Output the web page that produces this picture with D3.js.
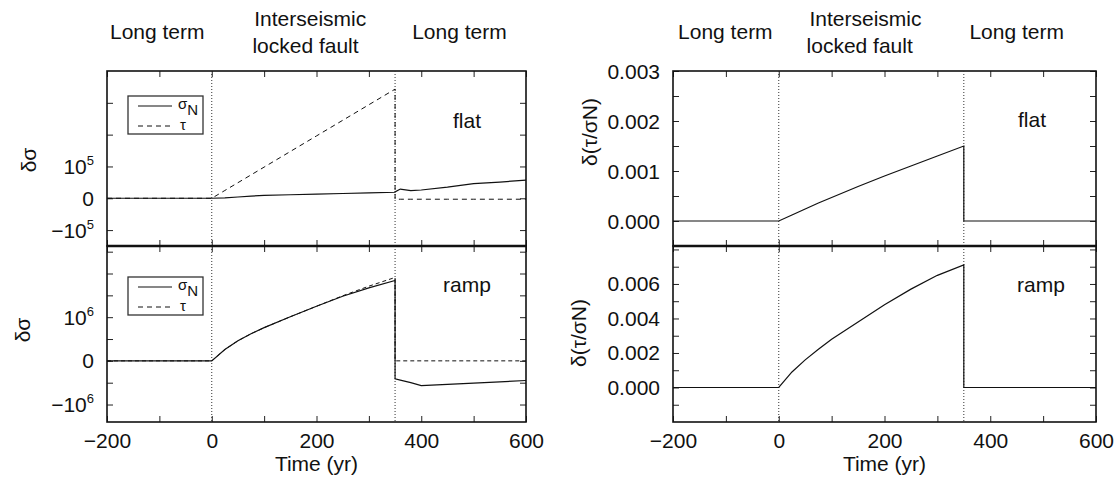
<!DOCTYPE html>
<html>
<head>
<meta charset="utf-8">
<script src="https://cdn.jsdelivr.net/npm/d3@7"></script>
<style>
  body { margin: 0; background: #fff; }
  svg text { font-family: "Liberation Sans", Arial, Helvetica, sans-serif; fill: #111; }
</style>
</head>
<body>
<svg id="chart" width="1115" height="483"></svg>
<script>
// time in years, 350 is repeated for the jump at the end of the locked phase
const timeYears = [-200, 0, 25, 50, 75, 100, 150, 200, 250, 300, 350, 350, 360, 380, 400, 450, 500, 550, 600]

// flat fault: stress changes
const flatSigmaN = [0, 0, 0.01e5, 0.04e5, 0.07e5, 0.09e5, 0.11e5, 0.13e5, 0.15e5, 0.17e5, 0.19e5, 0.20e5, 0.29e5, 0.24e5, 0.26e5, 0.35e5, 0.46e5, 0.51e5, 0.57e5]
const flatTau = [0, 0, 0.245e5, 0.49e5, 0.735e5, 0.98e5, 1.47e5, 1.96e5, 2.45e5, 2.94e5, 3.43e5, -0.03e5, -0.03e5, -0.03e5, -0.03e5, -0.03e5, -0.03e5, -0.03e5, -0.03e5]

// ramp fault: stress changes
const rampSigmaN = [0, 0, 0.26e6, 0.46e6, 0.62e6, 0.76e6, 1.01e6, 1.25e6, 1.48e6, 1.67e6, 1.84e6, -0.41e6, -0.44e6, -0.50e6, -0.565e6, -0.54e6, -0.51e6, -0.48e6, -0.45e6]
const rampTau = [0, 0, 0.26e6, 0.46e6, 0.62e6, 0.76e6, 1.01e6, 1.25e6, 1.49e6, 1.71e6, 1.91e6, 0, 0, 0, 0, 0, 0, 0, 0]

// Coulomb ratio changes
const flatRatio = [0, 0, 0.00012, 0.00024, 0.00036, 0.00047, 0.00069, 0.0009, 0.0011, 0.0013, 0.0015, 0, 0, 0, 0, 0, 0, 0, 0]
const rampRatio = [0, 0, 0.0009, 0.0016, 0.00222, 0.0028, 0.0038, 0.0048, 0.0057, 0.0065, 0.0071, 0, 0, 0, 0, 0, 0, 0, 0]

const xTickLabels = [-200, 0, 200, 400, 600]
const phaseBounds = [0, 350]
const phaseTitles = ['Long term', 'Interseismic', 'locked fault', 'Long term']

const svg = d3.select('#chart')
const FONT = 21

function frameAxes(g, x, y, xTicks, yTicks) {
    const [x0, x1] = x.range()
    const [y1, y0] = y.range()
    const style = sel => {
        sel.select('.domain').remove()
        sel.selectAll('line').attr('stroke', '#222').attr('stroke-width', 1)
    }
    g.append('g').attr('transform', `translate(${x0},0)`)
        .call(d3.axisLeft(y).tickValues(yTicks).tickSize(-6).tickFormat('')).call(style)
    g.append('g').attr('transform', `translate(${x1},0)`)
        .call(d3.axisRight(y).tickValues(yTicks).tickSize(-6).tickFormat('')).call(style)
    g.append('g').attr('transform', `translate(0,${y0})`)
        .call(d3.axisTop(x).tickValues(xTicks).tickSize(-6).tickFormat('')).call(style)
    g.append('g').attr('transform', `translate(0,${y1})`)
        .call(d3.axisBottom(x).tickValues(xTicks).tickSize(-6).tickFormat('')).call(style)
    g.append('rect')
        .attr('x', x0).attr('y', y0)
        .attr('width', x1 - x0).attr('height', y1 - y0)
        .attr('fill', 'none').attr('stroke', '#111').attr('stroke-width', 1.6)
}

function drawPanel(opt) {
    const x = d3.scaleLinear().domain([-200, 600]).range([opt.x0, opt.x1])
    const y = d3.scaleLinear().domain(opt.yDomain).range([opt.y1, opt.y0])
    const g = svg.append('g')

    const xTicks = d3.range(-200, 601, 100)
    frameAxes(g, x, y, xTicks, opt.yTicks)

    // phase boundaries
    g.selectAll('.phase')
        .data(phaseBounds)
        .enter()
        .append('line')
        .attr('x1', d => x(d)).attr('x2', d => x(d))
        .attr('y1', opt.y0).attr('y2', opt.y1)
        .attr('stroke', '#333').attr('stroke-width', 1)
        .attr('stroke-dasharray', '1,2')

    const line = d3.line()
        .x((d, i) => x(timeYears[i]))
        .y(d => y(d))

    opt.series.forEach(s => {
        g.append('path')
            .attr('d', line(s.values))
            .attr('fill', 'none')
            .attr('stroke', '#111')
            .attr('stroke-width', s.dash ? 1 : 1.2)
            .attr('stroke-dasharray', s.dash || null)
    })

    // y tick labels
    opt.yLabels.forEach(l => {
        const t = g.append('text')
            .attr('x', opt.x0 - 13)
            .attr('y', y(l.v) + 7.5)
            .attr('text-anchor', 'end')
            .attr('font-size', FONT)
        t.append('tspan').text(l.base)
        if (l.sup) {
            t.append('tspan').text(l.sup).attr('font-size', 13).attr('dy', -9)
        }
    })

    // y axis title
    g.append('text')
        .attr('transform', `translate(${opt.yTitleX},${opt.yTitleY}) rotate(-90)`)
        .attr('text-anchor', 'middle')
        .attr('font-size', FONT)
        .text(opt.yTitle)

    // case label
    g.append('text')
        .attr('x', opt.caseX)
        .attr('y', opt.caseY)
        .attr('text-anchor', 'middle')
        .attr('font-size', FONT)
        .text(opt.caseLabel)

    if (opt.legend) {
        const lg = g.append('g').attr('transform', `translate(${opt.x0 + 21},${opt.legendY})`)
        lg.append('rect')
            .attr('width', 75).attr('height', 38)
            .attr('fill', '#fff').attr('stroke', '#333').attr('stroke-width', 1.3)
        lg.append('line').attr('x1', 10).attr('x2', 44).attr('y1', 10).attr('y2', 10)
            .attr('stroke', '#111').attr('stroke-width', 1.2)
        lg.append('line').attr('x1', 10).attr('x2', 44).attr('y1', 30).attr('y2', 30)
            .attr('stroke', '#111').attr('stroke-width', 1).attr('stroke-dasharray', '5,4')
        const sn = lg.append('text').attr('x', 50).attr('y', 13).attr('font-size', 15)
        sn.append('tspan').text('σ')
        sn.append('tspan').text('N').attr('dy', 6).attr('font-size', 15)
        lg.append('text').attr('x', 52).attr('y', 34).attr('font-size', 15).text('τ')
    }

    if (opt.xAxis) {
        g.append('g').attr('transform', `translate(0,${opt.y1})`)
            .call(d3.axisBottom(x).tickValues(xTickLabels).tickSize(0).tickPadding(11))
            .call(sel => {
                sel.select('.domain').remove()
                sel.selectAll('text').attr('font-size', FONT).attr('font-family', null)
            })
        g.append('text')
            .attr('x', (opt.x0 + opt.x1) / 2)
            .attr('y', 471)
            .attr('text-anchor', 'middle')
            .attr('font-size', FONT)
            .text('Time (yr)')
    }

    if (opt.titles) {
        const rows = [39, 26, 53, 39]
        phaseTitles.forEach((t, i) => {
            svg.append('text')
                .attr('x', x(opt.titles[i]))
                .attr('y', rows[i])
                .attr('text-anchor', 'middle')
                .attr('font-size', FONT)
                .text(t)
        })
    }
    return { x, y }
}

const L = { x0: 107, x1: 526 }
const R = { x0: 673, x1: 1096 }
const TOP = { y0: 71, y1: 246 }
const BOT = { y0: 246, y1: 422 }

drawPanel({
    ...L, ...TOP,
    yDomain: [-1.5e5, 4e5],
    yTicks: [-1e5, 0, 1e5, 2e5, 3e5],
    yLabels: [{ v: 1e5, base: '10', sup: '5' }, { v: 0, base: '0' }, { v: -1e5, base: '−10', sup: '5' }],
    yTitle: 'δσ', yTitleX: 36, yTitleY: 160,
    caseLabel: 'flat', caseX: 467, caseY: 128,
    series: [{ values: flatSigmaN }, { values: flatTau, dash: '5,4' }],
    legend: true, legendY: 96,
    titles: [-104, 188, 179, 473]
})

drawPanel({
    ...L, ...BOT,
    yDomain: [-1.4e6, 2.63e6],
    yTicks: d3.range(-1e6, 2.6e6, 0.5e6),
    yLabels: [{ v: 1e6, base: '10', sup: '6' }, { v: 0, base: '0' }, { v: -1e6, base: '−10', sup: '6' }],
    yTitle: 'δσ', yTitleX: 30, yTitleY: 330,
    caseLabel: 'ramp', caseX: 467, caseY: 292,
    series: [{ values: rampTau, dash: '4,3' }, { values: rampSigmaN }],
    legend: true, legendY: 277,
    xAxis: true
})

const ratioFmt = d3.format('.3f')

drawPanel({
    ...R, ...TOP,
    yDomain: [-0.0005, 0.003],
    yTicks: d3.range(-0.0005, 0.00301, 0.0005),
    yLabels: [0, 0.001, 0.002, 0.003].map(v => ({ v, base: ratioFmt(v) })),
    yTitle: 'δ(τ/σN)', yTitleX: 597, yTitleY: 132,
    caseLabel: 'flat', caseX: 1032, caseY: 127,
    series: [{ values: flatRatio }],
    titles: [-101, 164, 153, 450]
})

drawPanel({
    ...R, ...BOT,
    yDomain: [-0.002, 0.0082],
    yTicks: d3.range(-0.001, 0.0081, 0.001),
    yLabels: [0, 0.002, 0.004, 0.006].map(v => ({ v, base: ratioFmt(v) })),
    yTitle: 'δ(τ/σN)', yTitleX: 586, yTitleY: 333,
    caseLabel: 'ramp', caseX: 1041, caseY: 292,
    series: [{ values: rampRatio }],
    xAxis: true
})

// thicker shared border between stacked panels
;[L, R].forEach(p => {
    svg.append('line')
        .attr('x1', p.x0).attr('x2', p.x1)
        .attr('y1', 246).attr('y2', 246)
        .attr('stroke', '#111').attr('stroke-width', 2.6)
})
</script>
</body>
</html>
